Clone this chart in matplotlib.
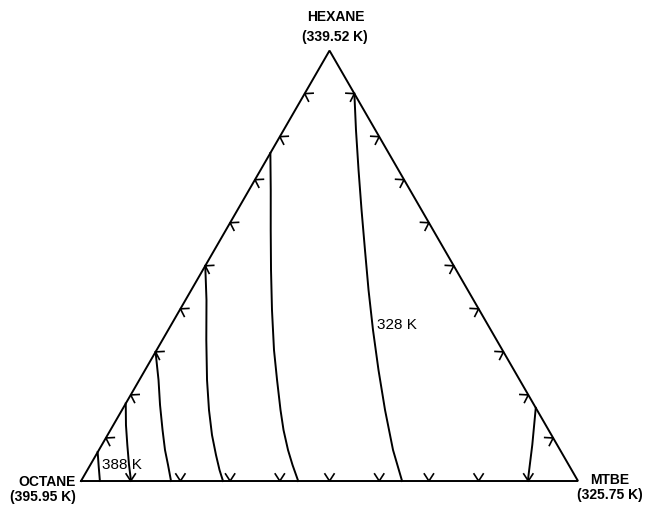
import numpy as np
import matplotlib
matplotlib.use('Agg')
import matplotlib.pyplot as plt

# residue curves, read as mole fractions (MTBE, hexane); octane = 1 - m - h
curve_388_m = [0.0, 0.018, 0.038]
curve_388_h = [0.067, 0.035, 0.0]

curve_b_m = [0.0, 0.0254, 0.0514, 0.0780, 0.1006]
curve_b_h = [0.18, 0.1301, 0.0836, 0.0372, 0.0]

curve_c_m = [0.0, 0.0386, 0.0707, 0.1048, 0.1330, 0.1565, 0.1811]
curve_c_h = [0.30, 0.2347, 0.1766, 0.1185, 0.0720, 0.0372, 0.0]

curve_d_m = [0.0, 0.0422, 0.0883, 0.1362, 0.1750, 0.2101, 0.2414, 0.2659, 0.2857]
curve_d_h = [0.50, 0.4205, 0.3276, 0.2347, 0.1650, 0.1069, 0.0604, 0.0256, 0.0]

curve_e_m = [0.0, 0.0437, 0.0901, 0.1372, 0.1856, 0.2361, 0.2771, 0.3189,
             0.3482, 0.3805, 0.4070, 0.437]
curve_e_h = [0.762, 0.6761, 0.5832, 0.4902, 0.3973, 0.3044, 0.2347, 0.1650,
             0.1185, 0.0720, 0.0372, 0.0]

curve_328_m = [0.10, 0.1455, 0.1971, 0.2496, 0.3030, 0.3566, 0.4121, 0.4696,
               0.5292, 0.5918, 0.646]
curve_328_h = [0.90, 0.8155, 0.7226, 0.6297, 0.5367, 0.4438, 0.3508, 0.2579,
               0.1650, 0.0720, 0.0]

curve_g_m = [0.83, 0.866, 0.899]
curve_g_h = [0.17, 0.084, 0.0]

curves = [
    (curve_388_m, curve_388_h),
    (curve_b_m, curve_b_h),
    (curve_c_m, curve_c_h),
    (curve_d_m, curve_d_h),
    (curve_e_m, curve_e_h),
    (curve_328_m, curve_328_h),
    (curve_g_m, curve_g_h),
]

# direction marks along the edges
edge_marks = [0.1, 0.2, 0.3, 0.4, 0.5, 0.6, 0.7, 0.8, 0.9]

components = ["OCTANE", "MTBE", "HEXANE"]
boiling = ["(395.95 K)", "(325.75 K)", "(339.52 K)"]

S3 = np.sqrt(3) / 2


def to_xy(m, h):
    m = np.asarray(m, float)
    h = np.asarray(h, float)
    return m + 0.5 * h, S3 * h


fig = plt.figure(figsize=(6.47, 5.08), dpi=100)
ax = fig.add_axes([0, 0, 1, 1])
ax.set_xlim(-0.163, 1.1388)
ax.set_ylim(-0.0543, 0.9678)
ax.set_aspect('equal')
ax.axis('off')

lw = 1.4
# triangle
tx, ty = to_xy([0, 1, 0, 0], [0, 0, 1, 0])
ax.plot(tx, ty, color='black', lw=lw, solid_joinstyle='miter')

for m, h in curves:
    x, y = to_xy(m, h)
    ax.plot(x, y, color='black', lw=lw, solid_joinstyle='round')

# chevrons pointing out of the triangle
arm = 0.017
spread = np.radians(33)


def chevron(px, py, normal_deg):
    a = np.radians(normal_deg)
    xs = [px + arm * np.cos(a + spread), px, px + arm * np.cos(a - spread)]
    ys = [py + arm * np.sin(a + spread), py, py + arm * np.sin(a - spread)]
    ax.plot(xs, ys, color='black', lw=1.2)


for f in edge_marks:
    # bottom edge (octane-MTBE)
    x, y = to_xy(f, 0)
    chevron(x, y, 90)
    # left edge (octane-hexane)
    x, y = to_xy(0, f)
    chevron(x, y, -30)
    # right edge (MTBE-hexane)
    x, y = to_xy(1 - f, f)
    chevron(x, y, 210)

font = ['DejaVu Sans Condensed', 'Liberation Sans Narrow', 'Liberation Sans']
vfont = dict(family=font, fontsize=10, fontweight='bold', ha='center', va='center')

ax.text(-0.069, -0.0014, components[0], **vfont)
ax.text(-0.0775, -0.0316, boiling[0], **vfont)
ax.text(1.0644, 0.002, components[1], **vfont)
ax.text(1.0634, -0.028, boiling[1], **vfont)
ax.text(0.5125, 0.9336, components[2], **vfont)
ax.text(0.5105, 0.8934, boiling[2], **vfont)

lfont = dict(family=font, fontsize=11, ha='left', va='center')
ax.text(0.0423, 0.0322, "388 K", **lfont)
ax.text(0.5956, 0.3139, "328 K", **lfont)

fig.savefig("out.png", dpi=100)
